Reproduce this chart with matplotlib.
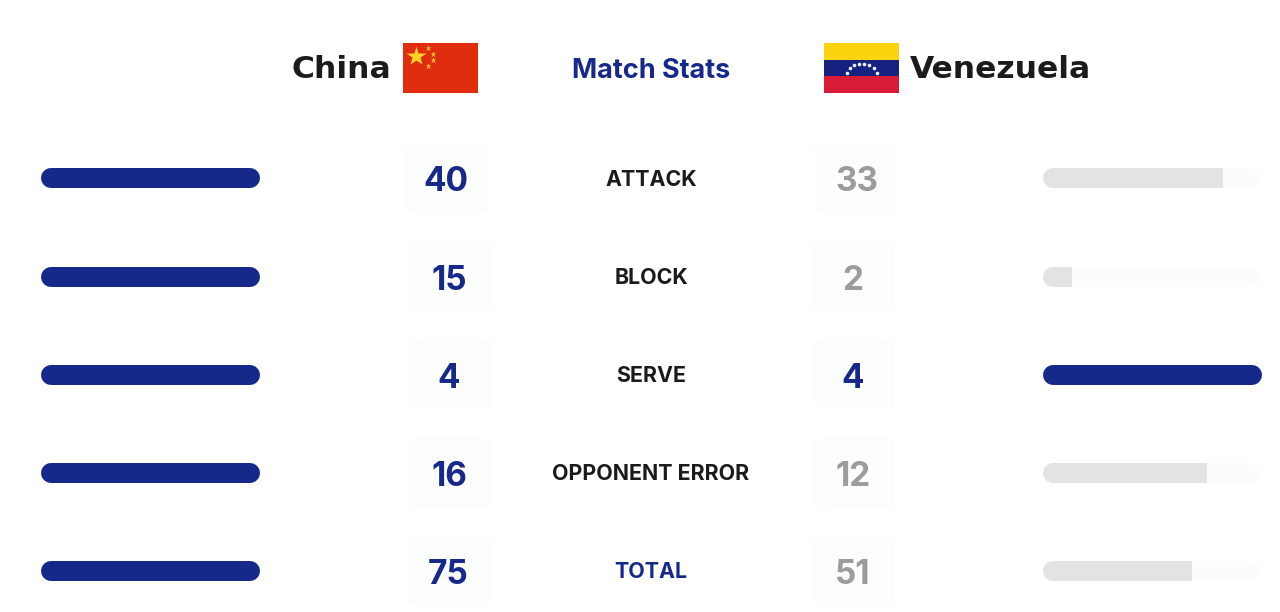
import matplotlib
matplotlib.use("Agg")
import matplotlib.pyplot as plt
from matplotlib.patches import FancyBboxPatch, Rectangle

categories = ["ATTACK", "BLOCK", "SERVE", "OPPONENT ERROR", "TOTAL"]
china = [40, 15, 4, 16, 75]
venezuela = [33, 2, 4, 12, 51]
team_left = "China"
team_right = "Venezuela"
title = "Match Stats"

NAVY = "#16288a"
GREY_BAR = "#e2e4e4"
GREY_NUM = "#9a9c9f"
INK = "#1b1b1e"

fig = plt.figure(figsize=(12.8, 6.12), dpi=100, facecolor="white")
ax = fig.add_axes([0, 0, 1, 1])
ax.set_xlim(0, 1280)
ax.set_ylim(612, 0)
ax.axis("off")

rows_y = [178, 276.5, 374.5, 472.5, 571]
BAR_W = 218.5
BAR_H = 20
L_X = 41
R_X = 1043
L_NUM_X = [446, 449, 449, 449, 448]
R_NUM_X = [857, 853, 853, 853, 853]
H_PT = BAR_H * 72 / 100


def pill(x, y, w, color, z=2, clip=None):
    ln, = ax.plot([x + BAR_H / 2, x + w - BAR_H / 2], [y, y], color=color, lw=H_PT,
                  solid_capstyle="round", zorder=z)
    if clip is not None:
        ln.set_clip_path(clip)
    return ln


def card(cx, cy, w=84, h=70):
    ax.add_patch(FancyBboxPatch((cx - w / 2, cy - h / 2), w, h,
                                boxstyle="round,pad=0,rounding_size=10",
                                fc="#fcfdfd", ec="none", zorder=1))


for i, cat in enumerate(categories):
    y = rows_y[i]
    a, b = china[i], venezuela[i]
    top = max(a, b)
    left_w = BAR_W * a / top
    pill(L_X, y, left_w, NAVY)
    right_w = BAR_W * b / top
    if b == top:
        pill(R_X, y, right_w, NAVY)
    else:
        pill(R_X, y, BAR_W - 3, "#fcfcfc", z=1.5)
        clip = Rectangle((R_X - 1, y - BAR_H), right_w + 1, BAR_H * 2, transform=ax.transData)
        pill(R_X, y, BAR_W - 3, GREY_BAR, z=2, clip=clip)
    card(L_NUM_X[i] + 1, y, 84, 70)
    card(R_NUM_X[i] + 1 if i else 855, y, 82, 70)
    ax.text(L_NUM_X[i], y + 0.5, str(a), ha="center", va="center_baseline", color=NAVY,
            fontsize=24, fontweight="bold", family="Inter", zorder=3)
    ax.text(R_NUM_X[i], y + 0.5, str(b), ha="center", va="center_baseline",
            color=NAVY if b == top else GREY_NUM,
            fontsize=24, fontweight="bold", family="Inter", zorder=3)
    ax.text(651, y - 0.5, cat, ha="center", va="center_baseline",
            color=NAVY if cat == "TOTAL" else INK,
            fontsize=15.4, fontweight="bold", family="Inter", zorder=3)

# header
ax.text(391, 66.5, team_left, ha="right", va="center_baseline", color=INK,
        fontsize=22.6, fontweight="bold", family="DejaVu Sans", zorder=3)
ax.text(910, 66.5, team_right, ha="left", va="center_baseline", color=INK,
        fontsize=22.6, fontweight="bold", family="DejaVu Sans", zorder=3)
ax.text(651, 68, title, ha="center", va="center_baseline", color=NAVY,
        fontsize=19.5, fontweight="bold", family="Inter", zorder=3)

# China flag
ax.add_patch(Rectangle((403, 43), 75, 50, fc="#e02d10", ec="none", zorder=2))
ax.plot([415.5], [55.5], marker="*", ms=15, color="#fbd428", mec="none", zorder=3)
ax.plot([427.5, 433, 433, 427.5], [48, 53.5, 60, 65.5], ls="none", marker="*",
        ms=5, color="#f7c52b", mec="none", zorder=3)

# Venezuela flag
ax.add_patch(Rectangle((824, 43), 75, 17, fc="#fbd30f", ec="none", zorder=2))
ax.add_patch(Rectangle((824, 60), 75, 16, fc="#15227f", ec="none", zorder=2))
ax.add_patch(Rectangle((824, 76), 75, 17, fc="#d81b37", ec="none", zorder=2))
sx = [846.5, 849.5, 853.5, 858.5, 863.5, 869, 873.5, 876.5]
sy = [73, 68, 65, 63.5, 63.5, 65, 68, 73]
ax.plot(sx, sy, ls="none", marker="o", ms=2.6, color="#eeeeee", mec="none", zorder=3)

fig.savefig("out.png", dpi=100, facecolor="white")
